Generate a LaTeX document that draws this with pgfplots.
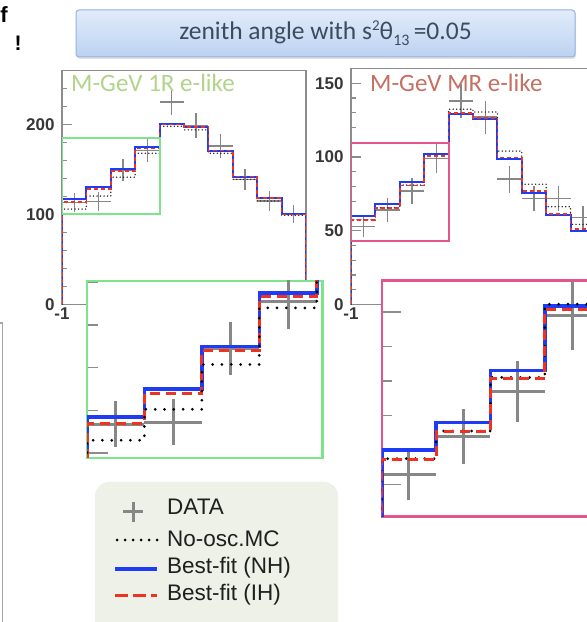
\documentclass[border=0pt]{standalone}
\usepackage{pgfplots}
\pgfplotsset{compat=1.18}
\usepackage{pgfplotstable}
\usepackage{fontspec}
\setmainfont{Liberation Sans}
\newfontfamily\carlito{Carlito}
\usetikzlibrary{shadows}

\definecolor{framegray}{RGB}{140,140,140}
\definecolor{ticktext}{RGB}{55,55,55}
\definecolor{datagray}{RGB}{135,135,135}
\definecolor{nhblue}{RGB}{30,60,245}
\definecolor{ihred}{RGB}{240,50,35}
\definecolor{boxgreen}{RGB}{125,228,140}
\definecolor{boxpink}{RGB}{228,85,140}
\definecolor{lblgreen}{RGB}{178,212,138}
\definecolor{lblred}{RGB}{196,112,98}
\definecolor{titletop}{RGB}{226,236,250}
\definecolor{titlebot}{RGB}{188,210,242}
\definecolor{titleborder}{RGB}{150,178,222}
\definecolor{titletext}{RGB}{62,74,94}
\definecolor{legendbg}{RGB}{238,241,231}

% histogram contents: left bin edge, best fit NH, best fit IH, no-oscillation MC
\pgfplotstableread{
x     nh     ih     nosc
-1    0      0      0
-1    117    114    106
-0.8  130    128    120.5
-0.6  150    148    141.5
-0.4  175    173.5  168
-0.2  201    200    198
0     197    197    194
0.2   171    171    168
0.4   142    142    139
0.6   118    118    115
0.8   100    100    99
1     100    100    99
1     0      0      0
}\onerhist
\pgfplotstableread{
x     y      e
-0.9  113.6  10.7
-0.7  114.5  10.7
-0.5  149    12.2
-0.3  171    13.1
-0.1  225    15.0
0.1   199    14.1
0.3   176    13.3
0.5   139    11.8
0.7   115    10.7
0.9   100    10.0
}\onerdata
\pgfplotstableread{
x     nh     ih     nosc
-1    0      0      0
-1    60     57.3   57.5
-0.8  68     65.3   65.5
-0.6  83     80.8   81
-0.4  101.7  100.6  102.2
-0.2  129    129.8  132.4
0     125.6  126.6  130.5
0.2   98.4   99.6   104
0.4   75.8   77     81.5
0.6   60.4   61.5   66.3
0.8   49.8   51     54.3
1     49.8   51     54.3
1     0      0      0
}\mrhist
\pgfplotstableread{
x     y      e
-0.9  52.8   7.3
-0.7  64     8.0
-0.5  77     8.8
-0.3  99     10.0
-0.1  138    11.7
0.1   127    11.3
0.3   85     9.2
0.5   72     8.5
0.7   72     8.5
0.9   59     7.7
}\mrdata

\pgfplotsset{
  hist/.style={const plot mark left, mark=none},
  panel/.style={
    scale only axis, anchor=south west,
    axis background/.style={fill=white},
    xmin=-1, xmax=1, ymin=0,
    axis line style={draw=framegray, line width=1.3pt},
    tick align=inside, ytick pos=left, xtick pos=bottom,
    major tick length=10pt, minor tick length=5pt,
    tick style={framegray, line width=1.3pt},
    xtick={-1}, xticklabels={-1},
    /pgf/number format/assume math mode=true,
    ticklabel style={font=\fontsize{17}{17}\selectfont\bfseries, text=ticktext},
    yticklabel style={xshift=-4pt},
  },
  zoombox/.style={
    scale only axis, anchor=south west,
    axis background/.style={fill=white},
    xmin=-1, xmax=-0.18,
    tick align=inside, ytick pos=left,
    xtick=\empty, yticklabels={},
    tick style={framegray, line width=1.6pt},
  },
  mainlines/.style={
    nosc/.style={hist, black!85, line width=1.6pt, dash pattern=on 0pt off 3.5pt, line cap=round},
    nh/.style={hist, nhblue, line width=2pt},
    ih/.style={hist, ihred, line width=1.6pt, dash pattern=on 4pt off 3pt},
    dat/.style={draw=none, mark=none, error bars/.cd, y dir=both, y explicit, x dir=both, x fixed=0.1,
      error mark=none, error bar style={draw=datagray, line width=1.4pt, solid}},
  },
  zoomlines/.style={
    nosc/.style={hist, black, line width=3pt, dash pattern=on 0pt off 9.3pt, line cap=round},
    nh/.style={hist, nhblue, line width=3.6pt},
    ih/.style={hist, ihred, line width=3pt, dash pattern=on 10pt off 6pt},
    dat/.style={draw=none, mark=none, error bars/.cd, y dir=both, y explicit, x dir=both, x fixed=0.1,
      error mark=none, error bar style={draw=datagray, line width=3pt, solid}},
  },
}

\begin{document}
\begin{tikzpicture}
\useasboundingbox (0pt,0pt) rectangle (587pt,622pt);
\clip (0pt,0pt) rectangle (587pt,622pt);
\fill[white] (0pt,0pt) rectangle (587pt,622pt);

% fragments of neighbouring slide text
\node[anchor=east, inner sep=0pt, font=\fontsize{22}{22}\selectfont\bfseries] at (8pt,607pt) {f};
\node[inner sep=0pt, font=\fontsize{21}{21}\selectfont\bfseries] at (18pt,579pt) {!};
\draw[gray!70, line width=1.2pt] (0pt,299pt) -- (2.5pt,299pt) -- (2.5pt,-2pt);

% heading box
\node[draw=titleborder, line width=1pt, rounded corners=3pt, top color=titletop, bottom color=titlebot,
  minimum width=499pt, minimum height=47pt, inner sep=0pt,
  drop shadow={opacity=0.22, shadow xshift=1pt, shadow yshift=-2pt}]
  at (325.5pt,588.5pt)
  {\carlito\fontsize{25.5}{28}\selectfont\color{titletext}zenith angle with s\raisebox{9pt}{\fontsize{15}{15}\selectfont 2}θ\raisebox{-6pt}{\fontsize{16}{16}\selectfont 13}\,=0.05};

% ---------- M-GeV 1R e-like ----------
\begin{axis}[panel, mainlines, at={(62pt,317.5pt)}, width=244pt, height=234pt, ymax=260,
  ytick={0,100,200}, minor ytick={20,40,60,80,120,140,160,180,220,240}]
  \addplot[dat] table[x=x, y=y, y error=e] {\onerdata};
  \addplot[nosc] table[x=x, y=nosc] {\onerhist};
  \addplot[nh] table[x=x, y=nh] {\onerhist};
  \addplot[ih] table[x=x, y=ih] {\onerhist};
  \draw[boxgreen, line width=2pt] (axis cs:-1,100) rectangle (axis cs:-0.2,185);
\end{axis}
\node[anchor=base west, inner sep=0pt] at (71pt,530.5pt)
  {\carlito\fontsize{25}{25}\selectfont\color{lblgreen}M-GeV 1R e-like};

% ---------- M-GeV MR e-like ----------
\begin{axis}[panel, mainlines, at={(351pt,317.5pt)}, width=244pt, height=236pt, ymax=160,
  ytick={0,50,100,150}, minor ytick={10,20,30,40,60,70,80,90,110,120,130,140}]
  \addplot[dat] table[x=x, y=y, y error=e] {\mrdata};
  \addplot[nosc] table[x=x, y=nosc] {\mrhist};
  \addplot[nh] table[x=x, y=nh] {\mrhist};
  \addplot[ih] table[x=x, y=ih] {\mrhist};
  \draw[boxpink, line width=2.2pt] (axis cs:-1,43) rectangle (axis cs:-0.2,109.7);
\end{axis}
\node[anchor=base west, inner sep=0pt] at (370pt,530.5pt)
  {\carlito\fontsize{25}{25}\selectfont\color{lblred}M-GeV MR e-like};

% ---------- magnified first bins, 1R ----------
\begin{axis}[zoombox, zoomlines, at={(87pt,164pt)}, width=235.5pt, height=177pt,
  ymin=97.7, ymax=180.6, ytick={100}, minor ytick={120,140,160,180},
  major tick length=21pt, minor tick length=11pt,
  axis line style={draw=boxgreen, line width=2.2pt}]
  \addplot[dat] table[x=x, y=y, y error=e] {\onerdata};
  \addplot[nh] table[x=x, y=nh] {\onerhist};
  \addplot[ih] table[x=x, y=ih] {\onerhist};
  \addplot[nosc] table[x=x, y=nosc] {\onerhist};
\end{axis}

% ---------- magnified first bins, MR ----------
\begin{axis}[zoombox, zoomlines, at={(381.7pt,105.3pt)}, width=223pt, height=236pt,
  ymin=40.7, ymax=109, ytick={50,100}, minor ytick={60,70,80,90},
  major tick length=19pt, minor tick length=10pt,
  axis line style={draw=boxpink, line width=2.4pt}]
  \addplot[dat] table[x=x, y=y, y error=e] {\mrdata};
  \addplot[nh] table[x=x, y=nh] {\mrhist};
  \addplot[nosc] table[x=x, y=nosc] {\mrhist};
  \addplot[ih] table[x=x, y=ih] {\mrhist};
\end{axis}

% ---------- legend ----------
\fill[legendbg, rounded corners=14pt] (95pt,140pt) rectangle (338pt,-30pt);
\draw[datagray, line width=3pt] (123pt,110.3pt) -- (143pt,110.3pt) (133.3pt,120.3pt) -- (133.3pt,100.3pt);
\draw[black, line width=3pt, dash pattern=on 0pt off 8pt, line cap=round] (117pt,82pt) -- (157pt,82pt);
\draw[nhblue, line width=3.2pt] (115pt,53pt) -- (157pt,53pt);
\draw[ihred, line width=3pt, dash pattern=on 13pt off 5pt] (115pt,26pt) -- (157pt,26pt);
\begin{scope}[every node/.style={anchor=base west, inner sep=0pt, text=black!88,
  font=\fontsize{22.5}{22.5}\selectfont}]
  \node at (167pt,107pt) {DATA};
  \node at (167pt,75pt) {No-osc.MC};
  \node at (167pt,48pt) {Best-fit (NH)};
  \node at (167pt,21.3pt) {Best-fit (IH)};
\end{scope}
\end{tikzpicture}
\end{document}
